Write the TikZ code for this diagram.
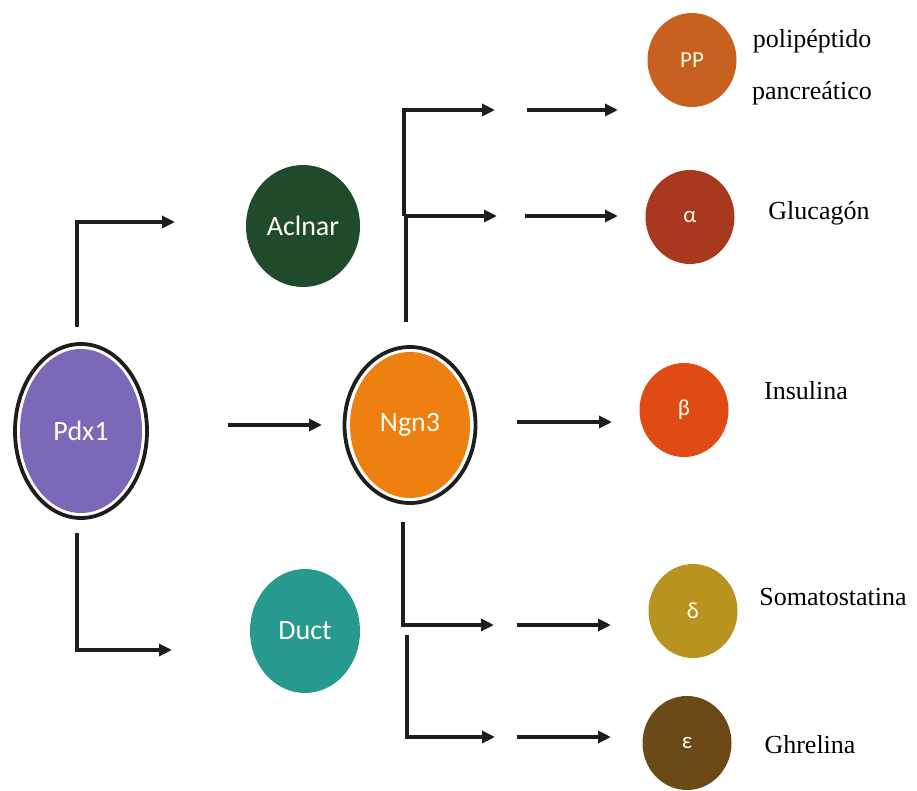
\documentclass[tikz,border=0pt]{standalone}
\usepackage{fontspec}
\setmainfont{Liberation Serif}
\newfontfamily\cellfont{Carlito}
\usetikzlibrary{shapes.geometric,arrows.meta}
\definecolor{cPdx}{HTML}{7A68B8}
\definecolor{cAci}{HTML}{1F4A2B}
\definecolor{cDuct}{HTML}{27998F}
\definecolor{cNgn}{HTML}{EE8012}
\definecolor{cPP}{HTML}{C8601F}
\definecolor{cAlpha}{HTML}{A8391E}
\definecolor{cBeta}{HTML}{E04B15}
\definecolor{cDelta}{HTML}{B8931F}
\definecolor{cEps}{HTML}{6B4A17}
\definecolor{cLine}{HTML}{1E1E1E}
\begin{document}
\begin{tikzpicture}[x=1pt,y=-1pt,
  cell/.style={ellipse,inner sep=0pt,text=white!95!yellow,font=\cellfont\fontsize{28}{28}\selectfont},
  hcell/.style={ellipse,inner sep=0pt,minimum width=89pt,minimum height=94pt,text=white!90!yellow,font=\cellfont\fontsize{23}{23}\selectfont},
  ring/.style={line width=3.8pt,draw=cLine},
  arr/.style={line width=3.2pt,draw=cLine,-{Triangle[length=13pt,width=12pt]}},
  lbl/.style={anchor=base,inner sep=0pt,font=\fontsize{26}{26}\selectfont,text=black}]
\useasboundingbox[fill=white] (0,0) rectangle (917,791);

% main cells
\node[cell,fill=cPdx,minimum width=122pt,minimum height=164pt] (pdx) at (81,431) {Pdx1};
\draw[ring] (pdx.center) ellipse [x radius=66pt, y radius=87pt];
\node[cell,fill=cAci,minimum width=114pt,minimum height=122pt] (aci) at (303,226) {Aclnar};
\node[cell,fill=cDuct,minimum width=110pt,minimum height=124pt] (duct) at (305,631) {Duct};
\node[cell,fill=cNgn,minimum width=120pt,minimum height=146pt] (ngn) at (410,425) {Ngn3};
\draw[ring] (ngn.center) ellipse [x radius=65.5pt, y radius=78pt];

% hormone cells
\node[hcell,fill=cPP] (pp) at (692,60) {PP};
\node[hcell,fill=cAlpha] (alpha) at (690,217) {α};
\node[hcell,fill=cBeta] (beta) at (684,410) {β};
\node[hcell,fill=cDelta] (delta) at (693,611) {δ};
\node[hcell,fill=cEps] (eps) at (687,743) {ε};

% labels
\node[lbl] (tpp1) at (812,48) {polipéptido};
\node[lbl] (tpp2) at (812,100) {pancreático};
\node[lbl] (talpha) at (819,220) {Glucagón};
\node[lbl] (tbeta) at (806,399) {Insulina};
\node[lbl] (tdelta) at (833,605) {Somatostatina};
\node[lbl] (teps) at (810,753) {Ghrelina};

% coordinates for arrows
\coordinate (pu0) at (77,327);
\coordinate (pu1) at (175,222);
\coordinate (pd0) at (77,533);
\coordinate (pd1) at (172,650);
\coordinate (pn0) at (228,425);
\coordinate (pn1) at (322,425);
\coordinate (nb0) at (517,422);
\coordinate (nb1) at (612,422);
\coordinate (nu0) at (406,322);
\coordinate (nu1) at (497,216);
\coordinate (nu2) at (404,216);
\coordinate (nu3) at (495,110);
\coordinate (sp0) at (527,110);
\coordinate (sp1) at (618,110);
\coordinate (sa0) at (525,216);
\coordinate (sa1) at (618,216);
\coordinate (nd0) at (403,522);
\coordinate (nd1) at (494,625);
\coordinate (nd2) at (407,635);
\coordinate (nd3) at (495,737);
\coordinate (sd0) at (517,625);
\coordinate (sd1) at (611,625);
\coordinate (se0) at (517,737);
\coordinate (se1) at (611,737);

\draw[arr] (pu0) |- (pu1);
\draw[arr] (pd0) |- (pd1);
\draw[arr] (pn0) -- (pn1);
\draw[arr] (nb0) -- (nb1);
\draw[arr] (nu0) |- (nu1);
\draw[arr] (nu2) |- (nu3);
\draw[arr] (sp0) -- (sp1);
\draw[arr] (sa0) -- (sa1);
\draw[arr] (nd0) |- (nd1);
\draw[arr] (nd2) |- (nd3);
\draw[arr] (sd0) -- (sd1);
\draw[arr] (se0) -- (se1);
\end{tikzpicture}
\end{document}
